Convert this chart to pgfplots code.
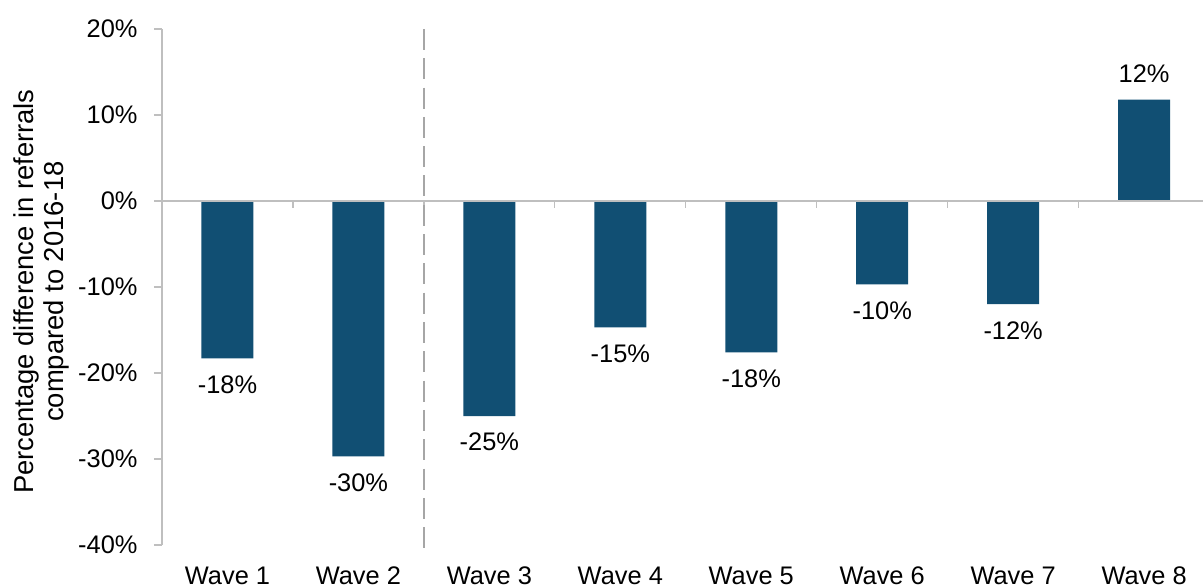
\documentclass[border=0pt]{standalone}
\usepackage{pgfplots}
\pgfplotsset{compat=1.18}
\usepackage{fontspec}
\setmainfont{Liberation Sans}

\definecolor{barblue}{RGB}{17,79,115}
\definecolor{axisgray}{RGB}{191,191,191}
\definecolor{dashgray}{RGB}{166,166,166}

\begin{document}
\begin{tikzpicture}
\begin{axis}[
  at={(0,0)}, anchor=south west,
  scale only axis,
  width=1041bp, height=516bp,
  xmin=-0.5, xmax=7.45,
  ymin=-40, ymax=20,
  clip=false,
  /pgf/number format/assume math mode=true,
  font=\fontsize{25.5}{30}\selectfont,
  axis y line*=left,
  axis x line*=bottom,
  x axis line style={draw=none},
  y axis line style={axisgray, line width=1.3bp},
  tick align=outside,
  major tick length=8bp,
  xtick={0,...,7},
  xticklabels={Wave 1,Wave 2,Wave 3,Wave 4,Wave 5,Wave 6,Wave 7,Wave 8},
  xtick style={draw=none},
  xticklabel style={anchor=north, text height=18bp, text depth=0bp, yshift=-9.5bp},
  ytick={-40,-30,-20,-10,0,10,20},
  yticklabels={-40\%,-30\%,-20\%,-10\%,0\%,10\%,20\%},
  ytick style={axisgray, line width=1.3bp},
  yticklabel style={xshift=-13bp},
  ylabel={Percentage difference in referrals\\compared to 2016-18},
  ylabel style={align=center, font=\fontsize{27.5}{30}\selectfont,
    at={(axis description cs:-0.1162,0.491)}, anchor=center},
  ybar, bar width=52bp,
  nodes near coords={\pgfmathprintnumber[fixed,precision=0]{\pgfplotspointmeta}\%},
  nodes near coords align={vertical},
  every node near coord/.append style={inner ysep=17bp, text=black},
]
% change in referrals for each wave, relative to 2016-18
\addplot[fill=barblue, draw=none] coordinates {
  (0,-18.3) (1,-29.7) (2,-25.0) (3,-14.7)
  (4,-17.6) (5,-9.7) (6,-12.0) (7,11.8)
};
% zero line with category separators
\draw[axisgray, line width=1.3bp] (axis cs:-0.5,0) -- (axis cs:7.45,0);
\pgfplotsinvokeforeach{0.5,1.5,2.5,3.5,4.5,5.5,6.5}{
  \draw[axisgray, line width=1.3bp] (axis cs:#1,0) -- ([yshift=-7bp]axis cs:#1,0);
}
% divider between waves 2 and 3
\draw[dashgray, line width=2.2bp, dash pattern=on 21bp off 8.3bp] (axis cs:1.5,20) -- (axis cs:1.5,-40.4);
\end{axis}
\pgfresetboundingbox
\path[use as bounding box] (-162bp,-42bp) rectangle (1041bp,545bp);
\end{tikzpicture}
\end{document}
